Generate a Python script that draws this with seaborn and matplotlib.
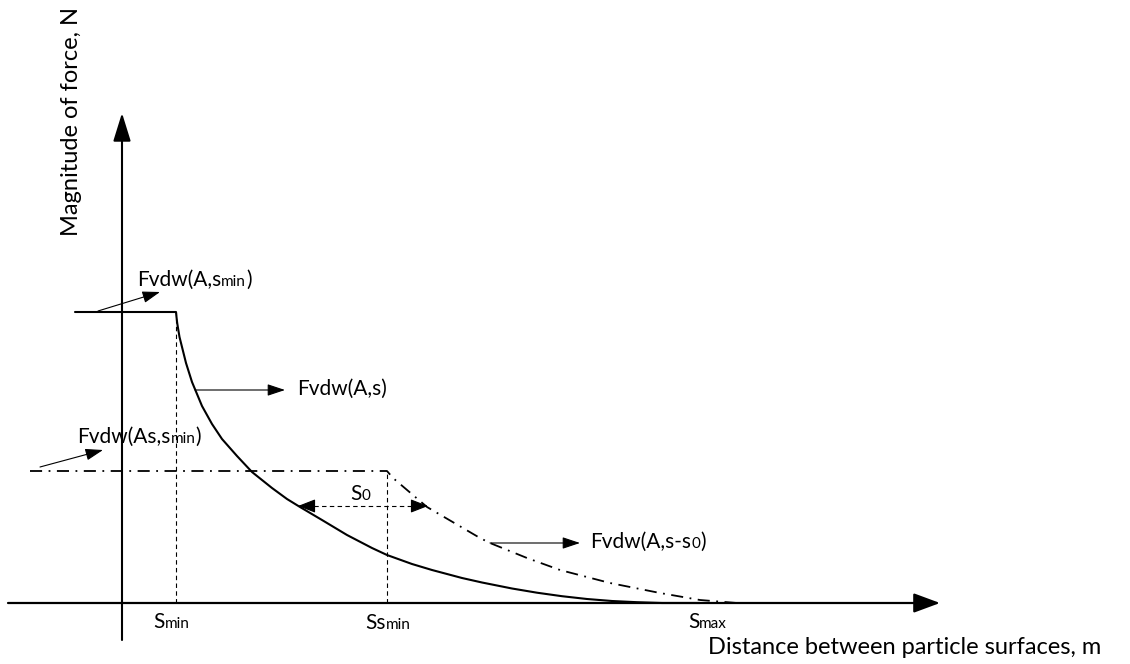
import matplotlib
matplotlib.use("Agg")
import matplotlib.pyplot as plt
import seaborn as sns
import pandas as pd
from matplotlib.offsetbox import TextArea, HPacker, AnnotationBbox

sns.set_theme(style="white")
plt.rcParams['font.family'] = ['Lato', 'DejaVu Sans']

# ---------------- data (schematic units: s = distance, F = force) ----------------
solid_s = [-47, 54, 54.5, 55.2, 56, 57.5, 60, 64, 70, 80, 90, 100, 115, 130, 150, 165,
           178, 200, 225, 250, 265, 290, 310, 340, 360, 390, 415, 440, 465, 490, 515,
           540, 578]
solid_F = [291, 291, 286, 280, 275, 266, 256, 240, 221, 197, 179, 164, 147, 131, 115, 104,
           96, 83, 68, 55, 48, 39, 33, 25, 20.5, 14.5, 10.3, 6.8, 4, 2, 0.8,
           0, 0]

shift_s = [-92, 265, 271, 305, 358, 368, 405, 438, 488, 538, 578, 615]
shift_F = [132, 132, 125, 96, 65, 60, 45, 33, 20, 10, 3, 0]

s_min, s_smin, s_max = 54, 265, 566
F_top, F_mid = 291, 132
s0_from, s0_to, s0_level = 176, 306, 97

xaxis_span = [-114, 818]
yaxis_span = [-37, 490]

# ---------------- figure ----------------
fig = plt.figure(figsize=(11.3, 6.64), dpi=100)
ax = fig.add_axes([0, 0, 1, 1])
ax.set_xlim(-122, 1008)
ax.set_ylim(-61, 603)
ax.axis("off")

df_solid = pd.DataFrame({"s": solid_s, "F": solid_F})
df_shift = pd.DataFrame({"s": shift_s, "F": shift_F})

sns.lineplot(data=df_solid, x="s", y="F", ax=ax, color="black", lw=1.5,
             estimator=None, sort=False)
sns.lineplot(data=df_shift, x="s", y="F", ax=ax, color="black", lw=1.3,
             estimator=None, sort=False, linestyle=(0, (6.7, 3.6, 1, 3.6)))

# guide lines
ax.plot([s_min, s_min], [0, F_top], color="black", lw=0.8, ls=(0, (4, 3)))
ax.plot([s_smin, s_smin], [0, F_mid], color="black", lw=0.8, ls=(0, (4, 3)))
ax.plot([s0_from + 8, s0_to - 8], [s0_level, s0_level], color="black", lw=0.8, ls=(0, (4, 3)))
for a, b in [(s0_from + 12, s0_from), (s0_to - 12, s0_to)]:
    ax.annotate("", xy=(b, s0_level), xytext=(a, s0_level),
                arrowprops=dict(arrowstyle="-|>,head_length=0.9,head_width=0.35",
                                color="black", lw=0.8, shrinkA=0, shrinkB=0))

# axes with arrows
ax.annotate("", xy=(xaxis_span[1], 0), xytext=(xaxis_span[0], 0),
            arrowprops=dict(arrowstyle="-|>,head_length=1.35,head_width=0.5",
                            color="black", lw=1.6, shrinkA=0, shrinkB=0))
ax.annotate("", xy=(0, yaxis_span[1]), xytext=(0, yaxis_span[0]),
            arrowprops=dict(arrowstyle="-|>,head_length=1.45,head_width=0.45",
                            color="black", lw=1.5, shrinkA=0, shrinkB=0))

# label pointer arrows
pointers = [((-24, 292), (38, 311)),
            ((73, 213), (163, 213)),
            ((-82, 136), (-19, 153)),
            ((368, 60), (458, 60))]
for start, end in pointers:
    ax.annotate("", xy=end, xytext=start,
                arrowprops=dict(arrowstyle="-|>,head_length=0.9,head_width=0.3",
                                color="black", lw=0.8, shrinkA=0, shrinkB=0))


def rich(x, y, parts, big=15, small=11):
    kids = [TextArea(t, textprops=dict(fontsize=(small if sm else big), color="black",
                                       family=['Lato', 'DejaVu Sans']))
            for t, sm in parts]
    box = HPacker(children=kids, align="baseline", pad=0, sep=0)
    ab = AnnotationBbox(box, (x, y), xycoords="data", box_alignment=(0, 0.5),
                        frameon=False, pad=0)
    ax.add_artist(ab)


rich(15, 323, [("Fvdw(A,s", 0), ("min", 1), (")", 0)])
rich(175, 214, [("Fvdw(A,s)", 0)])
rich(-45, 166, [("Fvdw(As,s", 0), ("min", 1), (")", 0)])
rich(468, 61, [("Fvdw(A,s-s", 0), ("0", 1), (")", 0)])
rich(228, 109, [("S", 0), ("0", 1)])
rich(31, -19, [("S", 0), ("min", 1)])
rich(243, -20, [("Ss", 0), ("min", 1)])
rich(566, -19, [("S", 0), ("max", 1)])

ax.text(586, -45, "Distance between particle surfaces, m", fontsize=17,
        ha="left", va="center", color="black")
ax.text(-50, 481, "Magnitude of force, N", fontsize=17, rotation=90,
        ha="center", va="center", color="black")

fig.savefig("out.png", dpi=100)
